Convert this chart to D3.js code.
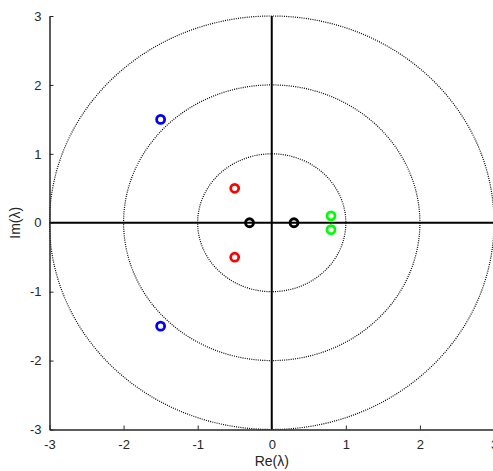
<!DOCTYPE html>
<html>
<head>
<meta charset="utf-8">
<script src="https://cdn.jsdelivr.net/npm/d3@7"></script>
<style>
  body { margin: 0; background: #fff; }
  svg { display: block; }
  .tick text { font-family: "Liberation Sans", Arial, sans-serif; font-size: 13px; fill: #262626; }
  .axis path, .axis line { stroke: #262626; }
</style>
</head>
<body>
<div id="chart"></div>
<script>
// eigenvalues, one group per colour
var groupNames = ['green', 'black', 'red', 'blue'];
var groupColors = ['#00ff00', '#000000', '#ff0000', '#0000ff'];
var reParts = [[0.8, 0.8], [-0.3, 0.3], [-0.5, -0.5], [-1.5, -1.5]];
var imParts = [[0.1, -0.1], [0, 0], [0.5, -0.5], [1.5, -1.5]];
var radii = [1, 2, 3];
var tickValues = [-3, -2, -1, 0, 1, 2, 3];

var W = 493, H = 471;
var margin = {top: 16, left: 49.5};
var plotW = 444.5, plotH = 413.5;

var x = d3.scaleLinear().domain([-3, 3]).range([margin.left, margin.left + plotW]);
var y = d3.scaleLinear().domain([-3, 3]).range([margin.top + plotH, margin.top]);

var svg = d3.select('#chart').append('svg')
    .attr('width', W)
    .attr('height', H);

// dotted unit circles
svg.selectAll('.ring')
    .data(radii)
  .enter().append('ellipse')
    .attr('class', 'ring')
    .attr('cx', x(0))
    .attr('cy', y(0))
    .attr('rx', function(d) { return x(d) - x(0); })
    .attr('ry', function(d) { return y(0) - y(d); })
    .attr('fill', 'none')
    .attr('stroke', '#000')
    .attr('stroke-width', 1.2)
    .attr('stroke-dasharray', '1,1.2');

// real and imaginary axes through the origin
svg.append('line')
    .attr('x1', x(-3)).attr('x2', x(3))
    .attr('y1', y(0)).attr('y2', y(0))
    .attr('stroke', '#000').attr('stroke-width', 2);
svg.append('line')
    .attr('x1', x(0)).attr('x2', x(0))
    .attr('y1', y(-3)).attr('y2', y(3))
    .attr('stroke', '#000').attr('stroke-width', 2);

// plain hyphen for negatives, like the original
var fmt = function(d) { return String(d); };

svg.append('g')
    .attr('class', 'axis')
    .attr('transform', 'translate(0,' + (margin.top + plotH) + ')')
    .call(d3.axisBottom(x).tickValues(tickValues).tickFormat(fmt).tickSizeInner(-4).tickSizeOuter(0).tickPadding(10))
    .select('.domain').attr('stroke-width', 1.5);

svg.append('g')
    .attr('class', 'axis')
    .attr('transform', 'translate(' + margin.left + ',0)')
    .call(d3.axisLeft(y).tickValues(tickValues).tickFormat(fmt).tickSizeInner(-4).tickSizeOuter(0).tickPadding(8))
    .select('.domain').attr('stroke-width', 1.5);

// points
var points = [];
groupNames.forEach(function(g, i) {
  reParts[i].forEach(function(re, j) {
    points.push({re: re, im: imParts[i][j], color: groupColors[i]});
  });
});

svg.selectAll('.pt')
    .data(points)
  .enter().append('circle')
    .attr('class', 'pt')
    .attr('cx', function(d) { return x(d.re); })
    .attr('cy', function(d) { return y(d.im); })
    .attr('r', 4)
    .attr('fill', 'none')
    .attr('stroke', function(d) { return d.color; })
    .attr('stroke-width', 2.8);

// axis labels
svg.append('text')
    .attr('x', x(0))
    .attr('y', 466)
    .attr('text-anchor', 'middle')
    .style('font-family', '"Liberation Sans", Arial, sans-serif')
    .style('font-size', '14px')
    .style('fill', '#262626')
    .text('Re(λ)');

svg.append('text')
    .attr('transform', 'translate(19.5,' + y(0) + ')rotate(-90)')
    .attr('text-anchor', 'middle')
    .style('font-family', '"Liberation Sans", Arial, sans-serif')
    .style('font-size', '14px')
    .style('fill', '#262626')
    .text('Im(λ)');
</script>
</body>
</html>
